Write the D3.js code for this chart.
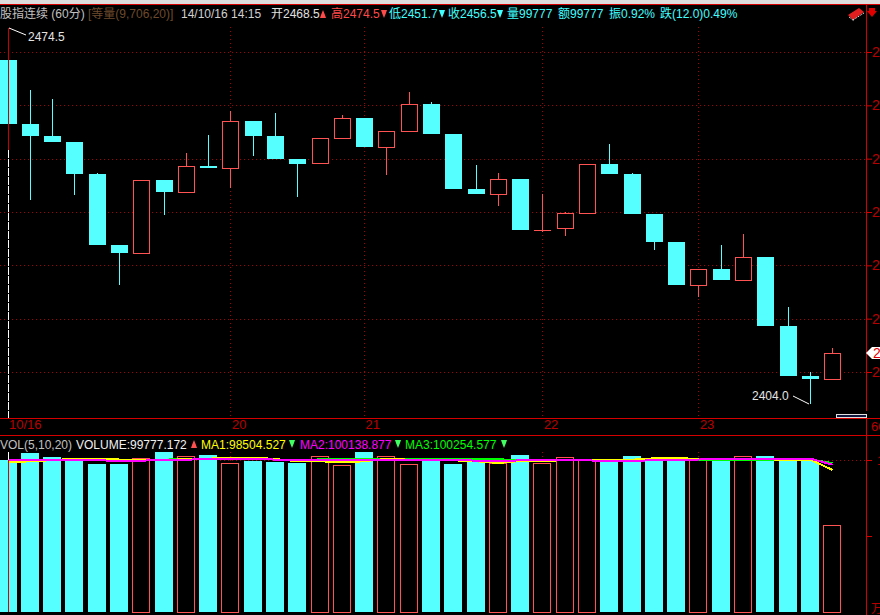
<!DOCTYPE html>
<html><head><meta charset="utf-8">
<script src="https://cdn.jsdelivr.net/npm/d3@7"></script>
<style>html,body{margin:0;padding:0;background:#000;overflow:hidden}svg{display:block}
text{font-family:"Liberation Sans","Noto Sans CJK SC",sans-serif;font-size:12px}</style>
</head><body><div id="c"></div>
<script>
const opens=[2468.5,2456.5,2454.25,2453.1,2447.1,2433.8,2432.4,2446,2443.75,2448.6,2448.25,2457.1,2454.25,2449.9,2449.1,2453.9,2457.6,2452.2,2455.2,2460.25,2454.6,2444.3,2443.4,2446.2,2436.6,2437,2439.8,2449,2447.1,2439.6,2434.4,2426.3,2429.3,2427.25,2431.6,2418.6,2409.25,2408.7];
const closes=[2456.5,2454.25,2453.1,2447.1,2433.8,2432.3,2446,2443.75,2448.6,2448.25,2457.1,2454.25,2449.9,2449,2453.9,2457.6,2452.2,2455.2,2460.25,2454.6,2444.3,2443.4,2446.2,2436.6,2436.6,2439.8,2449,2447.1,2439.6,2434.4,2426.3,2429.3,2427.25,2431.6,2418.6,2409.25,2408.7,2413.6];
const highs=[2474.5,2462.9,2461.2,2453.1,2447.3,2433.8,2446,2446,2451.1,2454.4,2458.9,2457.1,2458.6,2449.9,2453.9,2458.2,2457.6,2455.2,2462.5,2460.6,2454.6,2448.8,2447.3,2446.2,2443.4,2440,2449,2452.75,2447.3,2439.6,2434.4,2429.3,2433.8,2435.9,2431.6,2422.2,2410,2414.5];
const lows=[2451.7,2442.25,2453.1,2443.2,2433.8,2426.3,2432.4,2439.4,2443.75,2448.25,2444.5,2450.5,2449.9,2442.8,2449.1,2453.9,2452.2,2446.9,2455.2,2454.6,2444.3,2443.4,2441.1,2436.6,2436.25,2435.5,2439.8,2447.1,2439.6,2432.9,2426.3,2424,2427.25,2427.25,2418.6,2409.25,2404,2408.7];
const volumes=[99777,104605,101974,101316,97368,97368,101316,105263,102632,103289,98026,99342,98684,98026,102632,96711,105263,102632,97368,99342,97368,99342,98026,103289,98026,101974,100000,98684,102632,100000,100658,100658,100000,102632,102632,99342,100000,57237];
const ma1=[98504,99145,99900,100855,100855,100300,99900,99900,100658,100855,101645,101645,100658,99145,99145,98487,99145,100855,100197,100197,99803,99145,98026,99342,99342,99900,99900,100197,100197,101118,101118,100855,100658,100658,100400,100197,100197,93421];
const ma2=[100139,100000,100000,100000,100000,99145,99539,100197,100197,100658,100855,100500,100300,100197,100197,99803,99803,99803,100197,100197,100197,99539,99539,99700,99700,99803,99803,99145,99500,99803,100000,100300,100855,100855,100855,100855,100855,96908];
const ma3=[100255,100300,100300,100300,100300,100300,100300,100300,100400,100400,100400,100400,100400,99539,100461,100461,100461,100461,100461,100461,100461,100461,100461,99900,99900,99900,100000,100000,100000,100197,100197,100197,100197,100197,100197,100197,100197,98026];
const priceTicks=[2470,2460,2450,2440,2430,2420,2410];
const volTicks=[50000,100000];
const dateTickIndex=[0,10,16,24,31];
const dateTickLabels=["10/16","20","21","22","23"];
const headerTexts=["股指连续 (60分)","[等量(9,706,20)]","14/10/16 14:15","开2468.5","高2474.5","低2451.7","收2456.5","量99777","额99777","振0.92%","跌(12.0)0.49%"];
const headerColors=["#c0c0c0","#6e4a2c","#d0d0d0","#e0e0e0","#ff4a4a","#40ffff","#40ffff","#40ffff","#40ffff","#40ffff","#40ffff"];
const headerX=[0,88,181,271,331,389,448,507,558,609,660];
const legendTexts=["VOL(5,10,20)","VOLUME:99777.172","MA1:98504.527","MA2:100138.877","MA3:100254.577"];
const legendColors=["#c0c0c0","#f0f0f0","#ffff00","#ff00ff","#00ff00"];
const legendX=[0,76,201,300,405];

const W=880,H=615,RED="#ff5252",CYAN="#55ffff",AXIS="#d40000",GRID="#a80000",LAB="#b80000";
const n=opens.length;
const svg=d3.select("#c").append("svg").attr("width",W).attr("height",H).style("background","#000");
const xs=d3.scaleBand().domain(d3.range(n)).range([-2.59,844.24]).paddingInner(0.236).paddingOuter(0.118);
const cx=i=>Math.floor(xs(i)+xs.bandwidth()/2-0.5);
const yP=d3.scaleLinear().domain([2410,2470]).range([372,52]);
const yV=d3.scaleLinear().domain([0,100000]).range([612,460]);
const plotR=866;

svg.append("rect").attr("x",0).attr("y",0).attr("width",W).attr("height",4).attr("fill","#dcdcdc");

// grids
const grid=svg.append("g").attr("stroke",GRID).attr("stroke-dasharray","1 3").attr("shape-rendering","crispEdges");
grid.selectAll("line.h").data(priceTicks).join("line").attr("class","h")
 .attr("x1",0).attr("x2",plotR).attr("y1",d=>yP(d)+.5).attr("y2",d=>yP(d)+.5);
grid.selectAll("line.vh").data(volTicks.slice(1)).join("line").attr("class","vh")
 .attr("x1",0).attr("x2",plotR).attr("y1",d=>yV(d)+.5).attr("y2",d=>yV(d)+.5);
grid.selectAll("line.v").data(dateTickIndex.slice(1)).join("line").attr("class","v")
 .attr("x1",d=>cx(d)+.5).attr("x2",d=>cx(d)+.5).attr("y1",27).attr("y2",418);
grid.selectAll("line.v2").data(dateTickIndex.slice(1)).join("line").attr("class","v2")
 .attr("x1",d=>cx(d)+.5).attr("x2",d=>cx(d)+.5).attr("y1",452).attr("y2",612);

// candles
const cd=svg.append("g").attr("shape-rendering","crispEdges");
const idx=d3.range(n);
const col=i=>closes[i]>=opens[i]?RED:CYAN;
cd.selectAll("line").data(idx.slice(1)).join("line")
 .attr("x1",i=>cx(i)+.5).attr("x2",i=>cx(i)+.5)
 .attr("y1",i=>yP(highs[i])).attr("y2",i=>yP(lows[i])).attr("stroke",col);
cd.selectAll("rect").data(idx).join("rect").each(function(i){
  const up=closes[i]>=opens[i];
  const t=Math.round(yP(Math.max(opens[i],closes[i]))),b=Math.round(yP(Math.min(opens[i],closes[i])));
  const s=d3.select(this), l=cx(i)-8;
  if(up&&b-t>=2) s.attr("x",l+.5).attr("y",t+.5).attr("width",16).attr("height",b-t).attr("fill","#000").attr("stroke",RED);
  else s.attr("x",l).attr("y",t).attr("width",17).attr("height",Math.max(b-t,1)).attr("fill",col(i));
});

// volume
const vg=svg.append("g").attr("shape-rendering","crispEdges");
vg.selectAll("rect").data(idx).join("rect").each(function(i){
  const up=closes[i]>=opens[i];
  const t=Math.round(yV(volumes[i])),b=yV(0),s=d3.select(this),l=cx(i)-9;
  if(up) s.attr("x",l+.5).attr("y",t+.5).attr("width",17).attr("height",b-t).attr("fill","#000").attr("stroke",RED);
  else s.attr("x",l).attr("y",t).attr("width",18).attr("height",b-t).attr("fill",CYAN);
});
const line=d3.line().x((d,i)=>cx(i)+.5).y(d=>yV(d));
[[ma3,"#00ff00"],[ma1,"#ffff00"],[ma2,"#ff00ff"]].forEach(([a,c])=>{
  svg.append("path").datum(a).attr("d",line).attr("fill","none").attr("stroke",c).attr("stroke-width",2).attr("shape-rendering","crispEdges");
});

// frame lines
const fr=svg.append("g").attr("stroke",AXIS).attr("shape-rendering","crispEdges");
[4,418,435].forEach(y=>fr.append("line").attr("x1",0).attr("x2",W).attr("y1",y+.5).attr("y2",y+.5));
fr.append("line").attr("x1",plotR+.5).attr("x2",plotR+.5).attr("y1",4).attr("y2",411);
fr.append("line").attr("x1",plotR+.5).attr("x2",plotR+.5).attr("y1",418).attr("y2",615);

// crosshair on first candle
const c0=cx(0)+.5;
svg.append("line").attr("x1",c0).attr("x2",c0).attr("y1",yP(highs[0])).attr("y2",yP(lows[0])).attr("stroke","#c80000").attr("shape-rendering","crispEdges");
svg.append("line").attr("x1",c0).attr("x2",c0).attr("y1",yP(lows[0])).attr("y2",418).attr("stroke","#fff").attr("stroke-dasharray","8 1").attr("shape-rendering","crispEdges");
svg.append("line").attr("x1",c0).attr("x2",c0).attr("y1",452).attr("y2",yV(volumes[0])).attr("stroke","#fff").attr("shape-rendering","crispEdges");
svg.append("line").attr("x1",c0).attr("x2",c0).attr("y1",yV(volumes[0])).attr("y2",612).attr("stroke","#e00000").attr("shape-rendering","crispEdges");

// axes
const ax=d3.axisRight(yP).tickValues(priceTicks).tickSize(6).tickPadding(0).tickFormat(d3.format("d"));
const ga=svg.append("g").attr("transform",`translate(${plotR},0)`).call(ax);
ga.select(".domain").remove();
ga.selectAll("line").attr("stroke",AXIS);
ga.selectAll("text").attr("fill",LAB).style("font-size","14px");
const av=d3.axisRight(yV).tickValues(volTicks).tickSize(6).tickPadding(5).tickFormat(d=>d===100000?"1":"");
const gv=svg.append("g").attr("transform",`translate(${plotR},0)`).call(av);
gv.select(".domain").remove();
gv.selectAll("line").attr("stroke",AXIS);
gv.selectAll("text").attr("fill",LAB).style("font-size","13px");
const xa=d3.axisBottom(xs).tickValues(dateTickIndex).tickSize(0).tickPadding(0).tickFormat(d=>dateTickLabels[dateTickIndex.indexOf(d)]);
const gx=svg.append("g").attr("transform","translate(0,419)").call(xa);
gx.select(".domain").remove();
gx.selectAll("text").attr("fill",LAB).attr("text-anchor","start").attr("dx",0.5).attr("dy",".75em").style("font-size","13px");
svg.append("text").attr("x",871).attr("y",431).attr("fill",LAB).style("font-size","13px").text("60");
svg.append("text").attr("x",871).attr("y",613).attr("fill",LAB).style("font-size","12px").text("万");

// header
svg.selectAll("text.h").data(headerTexts).join("text").attr("class","h")
 .attr("x",(d,i)=>headerX[i]).attr("y",18).attr("fill",(d,i)=>headerColors[i]).text(d=>d);
svg.selectAll("text.l").data(legendTexts).join("text").attr("class","l")
 .attr("x",(d,i)=>legendX[i]).attr("y",449).attr("fill",(d,i)=>legendColors[i]).text(d=>d);
const tri=(x,y,c,up)=>svg.append("path").attr("fill",c)
  .attr("d",up?`M${x+2},${y}L${x+4},${y+5}L${x+5},${y+8}L${x-1},${y+8}L${x},${y+5}Z`:`M${x-1},${y}L${x+5},${y}L${x+4},${y+3}L${x+2},${y+8}L${x},${y+3}Z`);
tri(321,10,"#ff4a4a",true);tri(382,10,"#ff4a4a",false);tri(440,10,"#40ffff",false);tri(498,10,"#40ffff",false);
tri(192,440,"#ff5050",true);tri(290,440,"#40ff60",false);tri(396,440,"#40ff60",false);tri(502,440,"#40ff60",false);

// annotations
svg.append("line").attr("x1",9).attr("y1",28).attr("x2",26).attr("y2",35).attr("stroke","#fff");
svg.append("text").attr("x",28).attr("y",41).attr("fill","#e4e4e4").text(d3.format(".1f")(highs[0]));
svg.append("line").attr("x1",793).attr("y1",396).attr("x2",809).attr("y2",404).attr("stroke","#fff");
svg.append("text").attr("x",752).attr("y",400).attr("fill","#e4e4e4").text(d3.format(".1f")(lows[36]));

// range box
svg.append("rect").attr("x",836.5).attr("y",414.5).attr("width",30).attr("height",3).attr("fill","#101840").attr("stroke","#e0e0e0").attr("shape-rendering","crispEdges");

// last price tag
const ty=Math.round(yP(closes[n-1]));
svg.append("path").attr("fill","#fff").attr("d",`M866,${ty}L872,${ty-6}L880,${ty-6}L880,${ty+6}L872,${ty+6}Z`);
svg.append("text").attr("x",873).attr("y",ty+5).attr("fill","#e00000").style("font-size","14px").text(d3.format(".1f")(closes[n-1]));

// top right icons
svg.append("path").attr("fill","#e02020").attr("d","M848,15L859,8L864,12L853,20Z");
svg.append("path").attr("stroke","#fff").attr("fill","none").attr("stroke-dasharray","1 1").attr("d","M849,17L854,21M853,20L864,13");
svg.append("path").attr("fill","#e00000").attr("d","M869,8h6v3h2l-5,6l-5,-6h2z");
</script></body></html>
